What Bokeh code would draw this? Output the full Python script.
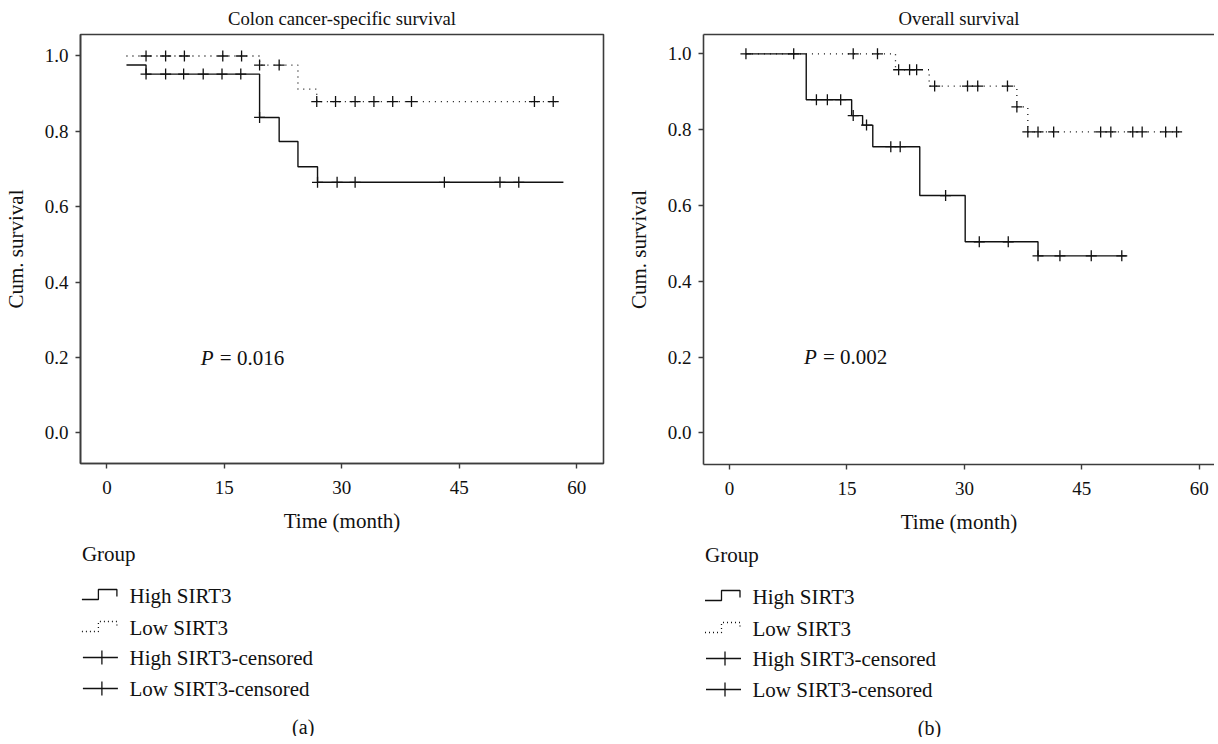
from bokeh.plotting import figure
from bokeh.layouts import row, column
from bokeh.models import Range1d, FixedTicker, LinearAxis, CustomJSTickFormatter
from bokeh.core.properties import value
from bokeh.embed import file_html
from bokeh.resources import INLINE

FONT = "Liberation Serif"
INK = "#111111"
AXIS = "#3c3c3c"

# ---------------- data ----------------
titles = ["Colon cancer-specific survival", "Overall survival"]
panel_tags = ["(a)", "(b)"]
p_values = ["0.016", "0.002"]
p_label_x = [12.0, 9.5]
p_label_y = [0.2, 0.2]
x_ticks = [0, 15, 30, 45, 60]
y_ticks = [0.0, 0.2, 0.4, 0.6, 0.8, 1.0]
x_title = "Time (month)"
y_title = "Cum. survival"
legend_title = "Group"
legend_labels = ["High SIRT3", "Low SIRT3", "High SIRT3-censored", "Low SIRT3-censored"]

# panel (a): colon cancer-specific survival
a_high_time = [2.5, 5.0, 19.5, 22.0, 24.4, 26.9]
a_high_surv = [0.976, 0.952, 0.837, 0.773, 0.706, 0.665]
a_high_end = 58.3
a_high_cens = [5.0, 7.5, 9.8, 12.3, 14.7, 17.1, 19.5, 26.9, 29.4, 31.7, 43.1, 50.2, 52.6]
a_low_time = [2.5, 19.5, 24.4, 26.8]
a_low_surv = [1.0, 0.976, 0.912, 0.879]
a_low_end = 57.9
a_low_cens = [5.0, 7.5, 9.9, 14.8, 17.2, 19.5, 22.0, 26.8, 29.2, 31.7, 34.1, 36.5, 38.9, 54.6, 57.0]

# panel (b): overall survival
b_high_time = [2.1, 9.8, 15.6, 17.0, 18.3, 24.3, 30.1, 39.4]
b_high_surv = [1.0, 0.879, 0.837, 0.812, 0.755, 0.626, 0.504, 0.467]
b_high_end = 50.7
b_high_cens = [2.1, 8.2, 11.1, 12.5, 14.2, 15.8, 17.5, 20.6, 21.8, 27.6, 31.9, 35.6, 39.4, 42.2, 46.2, 50.1]
b_low_time = [2.1, 21.2, 25.5, 36.7, 38.1]
b_low_surv = [1.0, 0.958, 0.915, 0.860, 0.794]
b_low_end = 57.8
b_low_cens = [15.8, 18.9, 21.6, 23.0, 23.9, 26.2, 30.4, 31.7, 35.5, 36.7, 38.1, 39.4, 41.4,
              47.4, 48.7, 51.5, 52.7, 55.7, 57.1]


def surv_at(t, times, surv):
    idx = 0
    for i, tt in enumerate(times):
        if tt <= t + 1e-9:
            idx = i
    return surv[idx]


def style_axes(p):
    for ax in p.xaxis + p.yaxis:
        ax.axis_line_color = AXIS
        ax.axis_line_width = 1.6
        ax.major_tick_line_color = AXIS
        ax.major_tick_line_width = 1.4
        ax.major_tick_in = 0
        ax.major_tick_out = 5
        ax.minor_tick_line_color = None
        ax.major_label_text_font = FONT
        ax.major_label_text_font_size = "19px"
        ax.major_label_text_color = INK
        ax.axis_label_text_font = FONT
        ax.axis_label_text_font_size = "21px"
        ax.axis_label_text_font_style = "normal"
        ax.axis_label_text_color = INK
    p.xaxis.ticker = FixedTicker(ticks=x_ticks)
    p.yaxis.ticker = FixedTicker(ticks=y_ticks)
    p.yaxis.formatter = CustomJSTickFormatter(code="return tick.toFixed(1);")
    p.xaxis.major_label_standoff = 12
    p.yaxis.major_label_standoff = 7
    p.xaxis.axis_label_standoff = 12
    p.yaxis.axis_label_standoff = 14
    p.xaxis.axis_label = x_title
    p.yaxis.axis_label = y_title


def km_panel(k, frame_w, frame_h, xr, yr, borders, high, low, right_outline=True):
    bl, br, bt, bb = borders
    p = figure(frame_width=frame_w, frame_height=frame_h,
               x_range=Range1d(*xr), y_range=Range1d(*yr),
               min_border_left=bl, min_border_right=br, min_border_top=bt, min_border_bottom=bb,
               output_backend="svg", toolbar_location=None)
    p.grid.visible = False
    p.background_fill_color = "white"
    p.border_fill_color = "white"
    p.title.text = titles[k]
    p.title.text_font = FONT
    p.title.text_font_size = "18.7px"
    p.title.text_font_style = "normal"
    p.title.text_color = INK
    p.title.align = "center"
    p.title.standoff = 11
    style_axes(p)
    if right_outline:
        p.outline_line_color = AXIS
        p.outline_line_width = 1.6
    else:
        p.outline_line_color = None
        top = LinearAxis(ticker=FixedTicker(ticks=[]), axis_line_color=AXIS, axis_line_width=1.6,
                         major_label_text_font_size="0px", major_tick_line_color=None,
                         major_tick_in=0, major_tick_out=0, major_label_standoff=0,
                         minor_tick_line_color=None, minor_tick_in=0, minor_tick_out=0)
        p.add_layout(top, "above")

    (ht, hs, he, hc), (lt, ls, le, lc) = high, low
    p.step(x=lt + [le], y=ls + [ls[-1]], mode="after", line_color=INK, line_width=1.3,
           line_dash="1 5")
    p.step(x=ht + [he], y=hs + [hs[-1]], mode="after", line_color=INK, line_width=1.4)
    p.scatter(x=lc, y=[surv_at(t, lt, ls) for t in lc], marker="cross", size=11,
              line_color=INK, line_width=1.3)
    p.scatter(x=hc, y=[surv_at(t, ht, hs) for t in hc], marker="cross", size=11,
              line_color=INK, line_width=1.3)

    p.text(x=[p_label_x[k]], y=[p_label_y[k]], text=["P"], text_font=value(FONT),
           text_font_style="italic", text_font_size="21px", text_color=INK,
           text_baseline="middle", text_align="left")
    p.text(x=[p_label_x[k]], y=[p_label_y[k]], text=["= " + p_values[k]], text_font=value(FONT),
           text_font_size="21px", text_color=INK, text_baseline="middle", text_align="left",
           x_offset=19)
    return p


def legend_fig(k, frame_w, bl, br, xr, sym_x, text_x, rows_y, group_y, tag_x, tag_y):
    # x/y ranges expressed in page pixels so that the legend lines up with the panel frame
    top, bottom = 535, 736
    L = figure(frame_width=frame_w, frame_height=bottom - top,
               x_range=Range1d(*xr), y_range=Range1d(bottom, top),
               x_axis_location=None, y_axis_location=None,
               min_border_left=bl, min_border_right=br, min_border_top=0, min_border_bottom=0,
               output_backend="svg", toolbar_location=None)
    L.grid.visible = False
    L.outline_line_color = None
    L.text(x=[sym_x], y=[group_y], text=[legend_title], text_font=value(FONT),
           text_font_size="21px", text_color=INK, text_baseline="middle", text_align="left")
    L.text(x=[text_x] * 4, y=rows_y, text=legend_labels, text_font=value(FONT),
           text_font_size="21px", text_color=INK, text_baseline="middle", text_align="left")
    for yy, dash in [(rows_y[0], "solid"), (rows_y[1], "1 3")]:
        L.line(x=[sym_x, sym_x + 16.5, sym_x + 16.5, sym_x + 35, sym_x + 35],
               y=[yy + 4, yy + 4, yy - 6, yy - 6, yy + 1],
               line_color=INK, line_width=1.3, line_dash=dash)
    for yy in rows_y[2:]:
        L.line(x=[sym_x + 1, sym_x + 36], y=[yy, yy], line_color=INK, line_width=1.3)
        L.line(x=[sym_x + 20, sym_x + 20], y=[yy - 7, yy + 7], line_color=INK, line_width=1.3)
    L.text(x=[tag_x], y=[tag_y], text=[panel_tags[k]], text_font=value(FONT),
           text_font_size="20px", text_color=INK, text_baseline="middle", text_align="center")
    return L


pa = km_panel(0, 523, 429, (-3.37, 63.42), (-0.081, 1.057), (71, 20, 26, 72),
              (a_high_time, a_high_surv, a_high_end, a_high_cens),
              (a_low_time, a_low_surv, a_low_end, a_low_cens), right_outline=True)
pb = km_panel(1, 511, 430, (-3.32, 61.94), (-0.0836, 1.051), (77, 0, 27, 70),
              (b_high_time, b_high_surv, b_high_end, b_high_cens),
              (b_low_time, b_low_surv, b_low_end, b_low_cens), right_outline=False)

la = legend_fig(0, 523, 71, 20, (79.3, 602.3), 80.7, 128.3,
                [595, 627, 657, 688], 553, 302, 726)
lb = legend_fig(1, 511, 77, 0, (699, 1210), 700.5, 748,
                [595, 627, 657, 688], 553, 925, 726)

layout = row(column(pa, la), column(pb, lb))

with open("out.html", "w") as f:
    f.write(file_html(layout, INLINE))
